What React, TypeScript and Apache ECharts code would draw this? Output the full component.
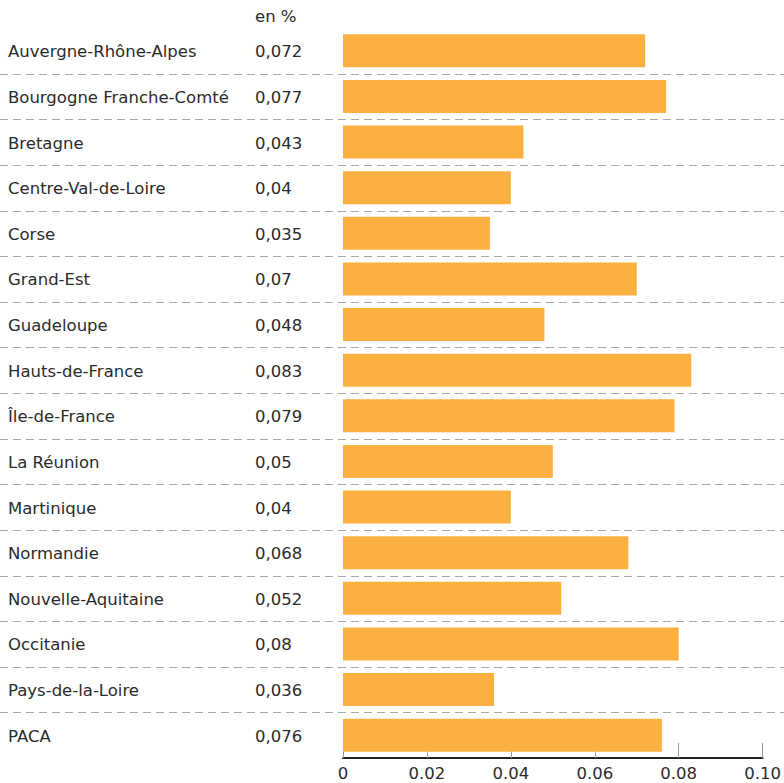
import React, { useEffect, useRef } from "react";
import * as echarts from "echarts";

const regions = [
  "Auvergne-Rhône-Alpes",
  "Bourgogne Franche-Comté",
  "Bretagne",
  "Centre-Val-de-Loire",
  "Corse",
  "Grand-Est",
  "Guadeloupe",
  "Hauts-de-France",
  "Île-de-France",
  "La Réunion",
  "Martinique",
  "Normandie",
  "Nouvelle-Aquitaine",
  "Occitanie",
  "Pays-de-la-Loire",
  "PACA",
];
const values = [0.072, 0.077, 0.043, 0.04, 0.035, 0.07, 0.048, 0.083, 0.079, 0.05, 0.04, 0.068, 0.052, 0.08, 0.036, 0.076];
const xTicks = [0, 0.02, 0.04, 0.06, 0.08, 0.1];
const unitLabel = "en %";

const FONT = "DejaVu Sans";
const TEXT = "#2b2b2b";
const FS = 16.5;

export default function App() {
  const ref = useRef<HTMLDivElement>(null);
  useEffect(() => {
    if (!ref.current) return;
    const chart = echarts.init(ref.current, null, { renderer: "svg" });
    const fmt = (v: number) => String(v).replace(".", ",");
    chart.setOption({
      animation: false,
      textStyle: { fontFamily: FONT, color: TEXT },
      title: {
        text: unitLabel,
        left: 250,
        top: 3,
        textStyle: { fontFamily: FONT, fontSize: FS, fontWeight: "normal", color: TEXT },
      },
      grid: { left: 343, right: 16, top: 28, bottom: 25, containLabel: false },
      xAxis: {
        type: "value",
        min: 0,
        max: 0.1,
        interval: 0.02,
        axisLine: { show: true, onZero: false, lineStyle: { color: "#222", width: 2 } },
        axisTick: { show: true, inside: true, length: 15, lineStyle: { color: "#999", width: 1 } },
        splitLine: { show: false },
        axisLabel: {
          fontFamily: FONT,
          fontSize: 16.5,
          color: TEXT,
          margin: 7,
          showMaxLabel: true,
          formatter: (v: number) => {
            const t = xTicks.find((x) => Math.abs(x - v) < 1e-9);
            return t === undefined ? "" : t === 0 ? "0" : t.toFixed(2);
          },
        },
      },
      yAxis: {
        type: "category",
        inverse: true,
        data: regions,
        axisLine: { show: false },
        axisTick: { show: false },
        axisLabel: {
          align: "left",
          margin: 335,
          fontFamily: FONT,
          fontSize: FS,
          color: TEXT,
          formatter: (name: string, idx: number) => `{n|${name}}{v|${fmt(values[idx])}}`,
          rich: {
            n: { width: 247, fontFamily: FONT, fontSize: FS, color: TEXT, padding: [2, 0, 0, 0] },
            v: { fontFamily: FONT, fontSize: FS, color: TEXT, padding: [2, 0, 0, 0] },
          },
        },
      },
      series: [
        {
          type: "bar",
          data: values,
          barWidth: 33,
          itemStyle: { color: "#FBB040" },
          silent: true,
        },
      ],
    });
    const w = chart.getWidth();
    const centers = regions.map((_, i) => chart.convertToPixel({ yAxisIndex: 0 }, i) as number);
    const lines = [];
    for (let i = 0; i < centers.length - 1; i++) {
      const y = Math.round((centers[i] + centers[i + 1]) / 2) + 0.5;
      lines.push({
        type: "line",
        silent: true,
        shape: { x1: 0, y1: y, x2: w, y2: y },
        style: { stroke: "#a8a8a8", lineWidth: 1, lineDash: [8, 5] },
      });
    }
    chart.setOption({ graphic: lines });
    return () => chart.dispose();
  }, []);
  return <div ref={ref} style={{ width: 784, height: 783, position: "absolute", left: 0, top: 0 }} />;
}
